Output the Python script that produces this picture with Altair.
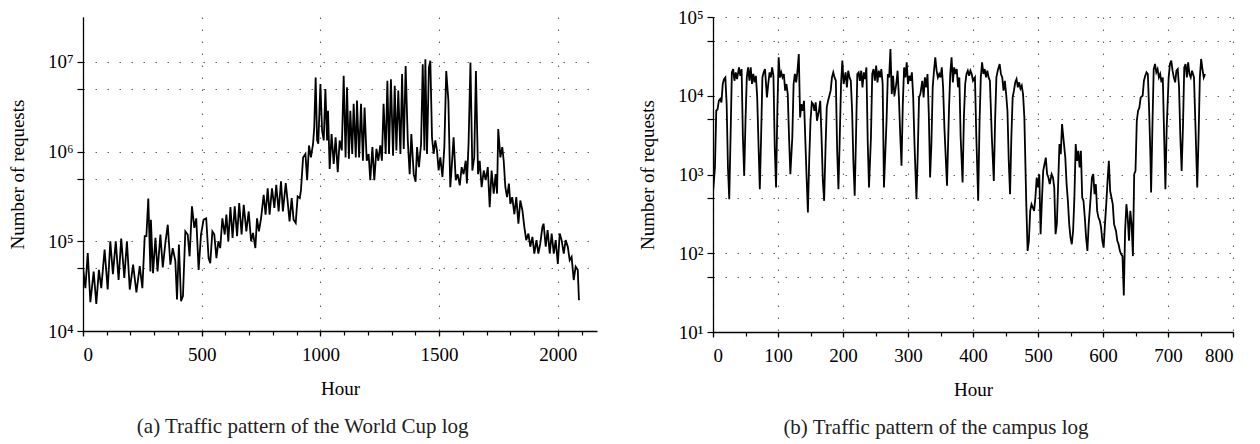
import altair as alt
import pandas as pd

# ---------------- data ----------------
wc_hours = [0, 10, 20, 31, 45, 56, 67, 77, 91, 104, 115, 126, 138, 150, 161, 174, 185, 197, 211, 225,
            239, 250, 260, 267, 275, 284, 286, 295, 305, 314, 326, 336, 347, 357, 368, 378, 389, 396, 404, 413,
            421, 431, 441, 449, 459, 469, 477, 487, 497, 508, 519, 529, 536, 545, 553, 562, 570, 578, 587, 597,
            604, 612, 621, 630, 639, 649, 658, 668, 677, 688, 698, 708, 716, 726, 733, 741, 750, 761, 769, 778,
            786, 796, 806, 814, 824, 834, 842, 854, 862, 870, 879, 887, 896, 904, 913, 918, 927, 937, 944, 952,
            960, 969, 974, 980, 986, 991, 1000, 1007, 1014, 1021, 1028, 1032, 1039, 1047, 1056, 1064, 1073, 1081, 1090, 1098,
            1106, 1112, 1120, 1126, 1134, 1140, 1149, 1154, 1163, 1171, 1179, 1186, 1195, 1203, 1210, 1219, 1227, 1236, 1244, 1252,
            1259, 1266, 1275, 1282, 1289, 1297, 1306, 1313, 1320, 1328, 1337, 1344, 1351, 1359, 1368, 1376, 1383, 1393, 1401, 1407,
            1415, 1424, 1431, 1438, 1442, 1449, 1457, 1463, 1470, 1477, 1484, 1491, 1498, 1505, 1514, 1522, 1530, 1539, 1547, 1553,
            1561, 1570, 1578, 1587, 1595, 1603, 1612, 1617, 1624, 1632, 1640, 1648, 1655, 1664, 1671, 1679, 1688, 1696, 1705, 1713,
            1721, 1730, 1738, 1744, 1749, 1758, 1766, 1772, 1779, 1786, 1794, 1800, 1808, 1817, 1825, 1834, 1842, 1851, 1859, 1867,
            1876, 1884, 1893, 1901, 1910, 1918, 1926, 1935, 1940, 1949, 1957, 1966, 1974, 1983, 1991, 2000, 2008, 2016, 2025, 2033,
            2042, 2050, 2058, 2067, 2075, 2084, 2089]
wc_requests = [51000, 30000, 74000, 21000, 46000, 20000, 48000, 30000, 81000, 29000, 100000, 43000, 100000, 37000, 107000, 39000, 100000, 29000, 55000, 27000,
               53000, 30000, 114000, 114000, 300000, 46000, 174000, 44000, 109000, 46000, 119000, 51000, 96000, 153000, 55000, 84000, 60000, 22500, 92000, 21500,
               24500, 129000, 119000, 68000, 245000, 141000, 180000, 48000, 119000, 174000, 180000, 65000, 57000, 129000, 119000, 65000, 100000, 84000, 180000, 119000,
               198000, 100000, 240000, 109000, 245000, 114000, 266000, 119000, 255000, 129000, 215000, 100000, 124000, 84000, 180000, 129000, 180000, 330000, 198000, 390000,
               198000, 390000, 235000, 426000, 215000, 465000, 215000, 445000, 278000, 167000, 303000, 174000, 160000, 316000, 303000, 370000, 860000, 940000, 480000, 1170000,
               860000, 1220000, 1860000, 6700000, 1330000, 1220000, 5650000, 1710000, 1330000, 4970000, 1330000, 2850000, 640000, 1570000, 730000, 1440000, 590000, 1330000, 1030000, 7000000,
               860000, 5200000, 830000, 2850000, 940000, 3400000, 860000, 3700000, 860000, 3400000, 790000, 3100000, 790000, 940000, 480000, 1120000, 480000, 1070000, 790000, 1170000,
               790000, 3400000, 940000, 6150000, 940000, 6400000, 900000, 5400000, 1030000, 4800000, 940000, 7300000, 1070000, 9000000, 1330000, 560000, 1570000, 560000, 460000, 1120000,
               670000, 1220000, 9400000, 1030000, 10700000, 940000, 8600000, 10300000, 1440000, 940000, 1330000, 1030000, 615000, 860000, 520000, 1120000, 7900000, 3700000, 400000, 670000,
               1440000, 480000, 560000, 420000, 670000, 560000, 790000, 440000, 1220000, 9800000, 615000, 860000, 7900000, 560000, 790000, 400000, 615000, 480000, 670000, 240000,
               615000, 340000, 560000, 340000, 1780000, 860000, 1120000, 790000, 400000, 310000, 440000, 260000, 310000, 200000, 310000, 157000, 285000, 220000, 144000, 103000,
               122000, 87000, 112000, 73000, 103000, 73000, 94000, 144000, 157000, 87000, 133000, 73000, 122000, 73000, 103000, 56000, 122000, 103000, 73000, 103000,
               87000, 61500, 67000, 37000, 52000, 48000, 22000]

campus_hours = [0, 1, 3, 5, 7, 9, 11, 13, 15, 17, 19, 21, 23, 25, 27, 29, 31, 33, 35, 37,
                40, 42, 44, 46, 48, 50, 52, 54, 56, 58, 60, 62, 64, 66, 68, 70, 72, 74, 76, 78,
                80, 83, 85, 87, 89, 91, 93, 95, 97, 99, 101, 103, 105, 107, 109, 111, 113, 115, 117, 119,
                122, 124, 126, 128, 130, 132, 134, 136, 138, 140, 142, 144, 146, 148, 150, 152, 154, 156, 158, 160,
                163, 165, 167, 169, 171, 173, 175, 177, 179, 181, 183, 185, 187, 189, 191, 193, 195, 197, 199, 201,
                204, 206, 208, 210, 212, 214, 216, 218, 220, 222, 224, 226, 228, 230, 232, 234, 236, 238, 240, 243,
                245, 247, 249, 251, 253, 255, 257, 259, 261, 263, 267, 269, 271, 273, 275, 277, 279, 282, 284, 286,
                288, 290, 292, 294, 296, 298, 300, 302, 304, 306, 308, 310, 313, 315, 317, 319, 322, 324, 326, 328,
                330, 332, 334, 336, 338, 340, 342, 344, 346, 348, 350, 352, 354, 356, 360, 363, 365, 367, 369, 371,
                373, 375, 377, 379, 381, 384, 386, 388, 390, 392, 394, 396, 398, 400, 403, 405, 408, 410, 412, 414,
                416, 418, 420, 422, 424, 426, 429, 432, 434, 436, 438, 441, 443, 445, 447, 449, 451, 453, 455, 457,
                459, 461, 463, 465, 467, 469, 471, 473, 475, 477, 479, 482, 484, 486, 488, 490, 492, 494, 496, 498,
                500, 502, 504, 506, 508, 510, 512, 514, 516, 518, 521, 523, 525, 527, 529, 531, 533, 535, 537, 540,
                542, 544, 546, 548, 550, 552, 554, 556, 558, 560, 562, 564, 566, 568, 570, 572, 574, 576, 578, 581,
                583, 585, 587, 589, 591, 593, 595, 597, 599, 601, 603, 605, 607, 609, 611, 613, 615, 617, 620, 622,
                624, 626, 628, 630, 632, 634, 636, 638, 640, 642, 644, 646, 648, 650, 652, 654, 656, 658, 661, 663,
                665, 667, 669, 671, 673, 674, 676, 678, 680, 682, 684, 686, 688, 690, 692, 694, 696, 698, 701, 703,
                705, 707, 709, 711, 713, 715, 717, 719, 721, 723, 725, 727, 729, 731, 733, 735, 737, 740, 742, 745,
                747, 749, 751, 753, 755, 757]
campus_requests = [600, 750, 1230, 6450, 6700, 8640, 9100, 8230, 14100, 16300, 17100, 7830, 1230, 486, 2950, 19800, 21800, 15500, 19800, 16300,
                   22900, 17900, 21800, 2950, 960, 4810, 17100, 22900, 15500, 22900, 14100, 18900, 14800, 17900, 9530, 2430, 651, 2950, 17100, 19800,
                   21800, 9530, 14100, 19800, 17100, 22900, 17900, 2200, 684, 6450, 30700, 17100, 19800, 17100, 18900, 11600, 14100, 10500, 2950, 1010,
                   2950, 14100, 18900, 14800, 20800, 33900, 5310, 7830, 6450, 8640, 2810, 916, 329, 1490, 4810, 8230, 7830, 6450, 8230, 4810,
                   6450, 8640, 2950, 830, 463, 2000, 7110, 8640, 10000, 11600, 17100, 19800, 17100, 15500, 2000, 651, 2950, 14100, 27900, 14100,
                   19800, 12800, 20800, 17100, 15500, 6450, 1420, 536, 2950, 18900, 19800, 15500, 20800, 12800, 19800, 16300, 22900, 2680, 684, 2950,
                   18900, 21800, 15500, 24100, 14800, 20800, 17100, 21800, 14100, 684, 4810, 18900, 17100, 39200, 10500, 17900, 10000, 14100, 20800, 9530,
                   3260, 1290, 7830, 22900, 17100, 26600, 14100, 17900, 15500, 19800, 9530, 2430, 486, 1810, 9530, 10500, 15500, 9530, 17100, 12800,
                   18900, 5850, 916, 2430, 12800, 20800, 30700, 20800, 17100, 18900, 17100, 22900, 12800, 3960, 718, 6450, 18900, 30700, 14800, 22900,
                   18900, 21800, 12800, 17100, 2950, 790, 5310, 14100, 18900, 20800, 17900, 20800, 18900, 15500, 17100, 3260, 463, 4360, 17100, 26600,
                   18900, 21800, 17100, 20800, 17100, 15500, 2950, 830, 4810, 17100, 20800, 25300, 18900, 17100, 11600, 15500, 10500, 6450, 1490, 562,
                   2950, 9530, 11600, 14800, 16300, 12800, 14800, 12300, 13400, 10500, 5310, 420, 107, 144, 345, 420, 381, 345, 510, 916,
                   684, 1010, 175, 463, 1110, 1350, 1640, 1010, 916, 753, 1010, 916, 684, 175, 234, 753, 2430, 1810, 4360, 2430,
                   1640, 753, 463, 234, 158, 130, 192, 510, 2430, 1490, 2000, 1230, 2000, 510, 463, 284, 158, 107, 234, 510,
                   916, 1010, 562, 753, 345, 284, 260, 213, 144, 118, 234, 420, 830, 1490, 620, 510, 420, 234, 192, 144,
                   130, 107, 97, 92, 29, 192, 420, 284, 144, 345, 234, 92, 1010, 1110, 4810, 6450, 7110, 9530, 10000, 15500,
                   17900, 19800, 18900, 6450, 1640, 591, 3960, 21800, 25300, 19800, 21800, 17100, 18900, 14800, 17100, 3260, 651, 3960, 17100, 25300,
                   27900, 20800, 17100, 14800, 20800, 21800, 12800, 2950, 1110, 3960, 22900, 25300, 17100, 26600, 18900, 17100, 20800, 17100, 4810, 684,
                   2950, 17100, 29300, 21800, 17100, 18900]

wc_x_major = [0, 500, 1000, 1500, 2000]
wc_x_minor = [0, 100, 200, 300, 400, 500, 600, 700, 800, 900, 1000, 1100, 1200, 1300, 1400, 1500,
              1600, 1700, 1800, 1900, 2000, 2100]
wc_y_ticks = [1e4, 5e4, 1e5, 5e5, 1e6, 5e6, 1e7]
campus_x_major = [0, 100, 200, 300, 400, 500, 600, 700, 800]
campus_x_minor = [0, 50, 100, 150, 200, 250, 300, 350, 400, 450, 500, 550, 600, 650, 700, 750, 800]
campus_y_ticks = [1e1, 5e1, 1e2, 5e2, 1e3, 5e3, 1e4, 5e4, 1e5]

FONT = "Liberation Serif"
SUP = ("abs(log(datum.value)/LN10 - round(log(datum.value)/LN10)) < 0.001 ? "
       "'10' + ['\u2070','\u00b9','\u00b2','\u00b3','\u2074','\u2075','\u2076','\u2077','\u2078','\u2079']"
       "[round(log(datum.value)/LN10)] : ''")

GRID = dict(grid=True, gridColor="#666666", gridDash=[1.5, 10.5], gridWidth=1.1, gridOpacity=1)
AX = dict(labelFont=FONT, titleFont=FONT, labelFontSize=19, titleFontSize=19,
          titleFontWeight="normal", labelColor="black", titleColor="black",
          domainColor="black", domainWidth=1.3, tickColor="black", tickWidth=1.2)


def panel(hours, reqs, xdom, ydom, xmajor, xminor, yticks, w, h, caption):
    df = pd.DataFrame({"hour": hours, "requests": reqs})
    base = alt.Chart(df)
    line = base.mark_line(color="black", strokeWidth=1.8, clip=True).encode(
        x=alt.X("hour:Q", scale=alt.Scale(domain=xdom, nice=False, zero=False),
                axis=alt.Axis(values=xmajor, title="Hour", format="d", tickSize=5,
                              labelPadding=9, titlePadding=15, **GRID, **AX)),
        y=alt.Y("requests:Q", scale=alt.Scale(type="log", domain=ydom, nice=False),
                axis=alt.Axis(values=yticks, labelExpr=SUP, title="Number of requests",
                              tickSize=6, labelPadding=4, titlePadding=20, **GRID, **AX)),
    )
    minor = base.mark_line(opacity=0).encode(
        x=alt.X("hour:Q", axis=alt.Axis(values=xminor, labels=False, title=None, domain=False,
                                        grid=False, tickSize=4, orient="bottom",
                                        tickColor="black", tickWidth=1.2)),
        y=alt.Y("requests:Q"),
    )
    return alt.layer(line, minor).resolve_axis(x="independent").properties(
        width=w, height=h,
        title=alt.TitleParams(caption, orient="bottom", anchor="middle", frame="bounds", font=FONT,
                              fontSize=21, fontWeight="normal", color="#222222", offset=18),
    )


left = panel(wc_hours, wc_requests, [0, 2165], [1e4, 3.16e7], wc_x_major, wc_x_minor,
             wc_y_ticks, 514, 314, "(a)  Traffic pattern of the World Cup log")
right = panel(campus_hours, campus_requests, [0, 800], [10, 1e5], campus_x_major, campus_x_minor,
              campus_y_ticks, 520, 315, "(b)  Traffic pattern of the campus log")

chart = alt.hconcat(left, right, spacing=41).properties(
    padding={"left": 8, "top": 8, "right": 5, "bottom": 5}
).configure(background="white").configure_view(stroke=None)

chart.save("out.html", embed_options={"renderer": "svg", "actions": False})
